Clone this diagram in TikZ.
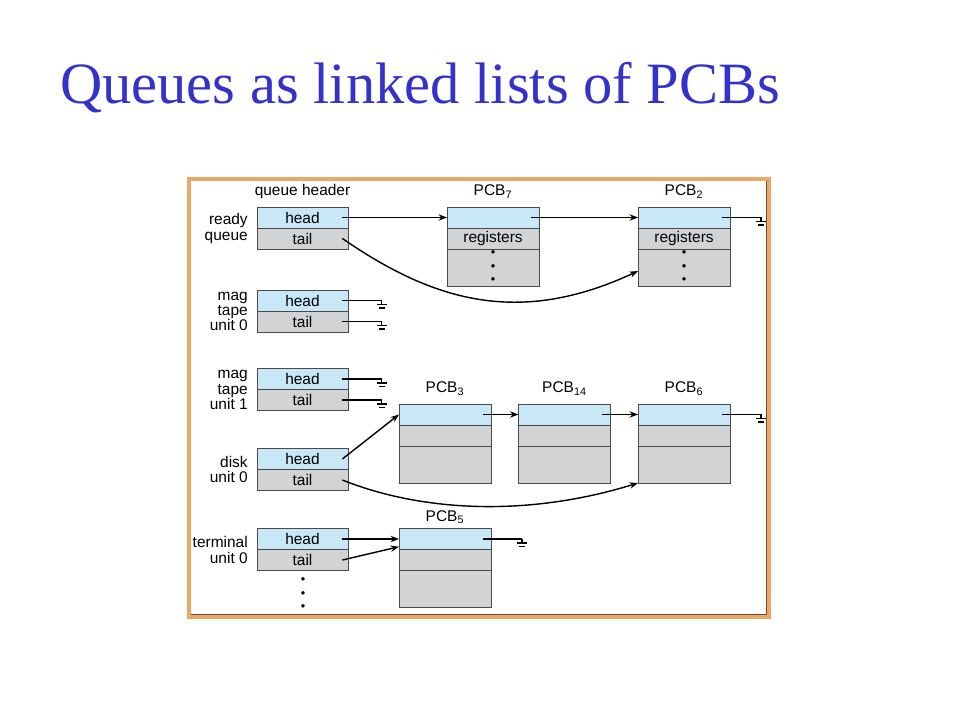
\documentclass[tikz,border=0pt]{standalone}
\usepackage{fontspec}
\setmainfont{Liberation Serif}
\newfontfamily\arialfont{Liberation Sans}
\usepackage{tikz}
\usetikzlibrary{positioning, arrows.meta}
\definecolor{titleblue}{HTML}{3333CC}
\definecolor{rowblue}{HTML}{C8E8F8}
\definecolor{rowgray}{HTML}{D2D3D5}
\definecolor{edgegray}{HTML}{4A4A4A}
\definecolor{frameorange}{HTML}{EBA868}
\definecolor{framebrown}{HTML}{7A4A20}
\newcommand{\boxfont}{\arialfont\fontsize{11}{10.8}\selectfont}
\newcommand{\dotsfont}{\arialfont\fontsize{9}{9.6}\selectfont}
\newcommand{\threedots}{\textbullet\\\textbullet\\\textbullet}
\newcommand{\groundat}[1]{\draw [line width=0.8pt] (#1) -- ++(0,4) ++(-5,0) -- ++(10,0) ++(-8,3.5) -- ++(6,0);}
\tikzstyle{headrow} = [rectangle, minimum width=2.275cm, minimum height=0.525cm, inner sep=0pt, outer sep=0pt, draw=edgegray, line width=0.6pt, fill=rowblue, font=\boxfont]
\tikzstyle{tailrow} = [headrow, fill=rowgray]
\tikzstyle{pcbhead} = [headrow, minimum width=2.3cm]
\tikzstyle{pcbrow} = [pcbhead, fill=rowgray]
\tikzstyle{pcbbody} = [pcbrow, minimum height=0.925cm, align=center, font=\dotsfont]
\tikzstyle{queuename} = [anchor=east, align=right, inner sep=0pt, font=\boxfont]
\tikzstyle{pcbname} = [inner sep=0pt, font=\boxfont]
\tikzstyle{pointer} = [-{Stealth[length=6pt, width=4.5pt]}, line width=1pt]
\tikzstyle{wire} = [line width=1pt]

\begin{document}
\begin{tikzpicture}[x=0.025cm, y=-0.025cm]
	\useasboundingbox (0,0) rectangle (960,720);
	\node (title)[anchor=base west, inner sep=0pt, text=titleblue, font=\fontsize{41.6}{41.6}\selectfont] at (60,104) {Queues as linked lists of PCBs};
	\draw [frameorange, line width=3pt] (189,179) rectangle (769,617);
	\draw [framebrown, line width=0.6pt] (191,614.5) -- (766.5,614.5) -- (766.5,181);

	% queue headers
	\node (ready head)[headrow] at (302.5,217.5) {head};
	\node (ready tail)[tailrow, below=0pt of ready head] {tail};
	\node (ready name)[queuename] at (248,228.5) {ready\\queue};
	\node (queue header)[pcbname, above=6pt of ready head] {queue header};
	\node (mag0 head)[headrow] at (302.5,300.5) {head};
	\node (mag0 tail)[tailrow, below=0pt of mag0 head] {tail};
	\node (mag0 name)[queuename] at (248,311.5) {mag\\tape\\unit 0};
	\node (mag1 head)[headrow] at (302.5,379) {head};
	\node (mag1 tail)[tailrow, below=0pt of mag1 head] {tail};
	\node (mag1 name)[queuename] at (248,390) {mag\\tape\\unit 1};
	\node (disk head)[headrow] at (302.5,459) {head};
	\node (disk tail)[tailrow, below=0pt of disk head] {tail};
	\node (disk name)[queuename] at (248,469.5) {disk\\unit 0};
	\node (term head)[headrow] at (302.5,539) {head};
	\node (term tail)[tailrow, below=0pt of term head] {tail};
	\node (term name)[queuename] at (248,550) {terminal\\unit 0};
	\node (term dots)[inner sep=0pt, align=center, font=\dotsfont] at (303,594.5) {\threedots};

	% PCBs
	\node (PCB7 head)[pcbhead] at (493,217.5) {};
	\node (PCB7 regs)[pcbrow, below=0pt of PCB7 head] {registers};
	\node (PCB7 body)[pcbbody, below=0pt of PCB7 regs] {\threedots};
	\node (PCB7 name)[pcbname, above=6pt of PCB7 head] {PCB\textsubscript{7}};
	\node (PCB2 head)[pcbhead] at (684,217.5) {};
	\node (PCB2 regs)[pcbrow, below=0pt of PCB2 head] {registers};
	\node (PCB2 body)[pcbbody, below=0pt of PCB2 regs] {\threedots};
	\node (PCB2 name)[pcbname, above=6pt of PCB2 head] {PCB\textsubscript{2}};
	\node (PCB3 head)[pcbhead] at (445,414.5) {};
	\node (PCB3 regs)[pcbrow, below=0pt of PCB3 head] {};
	\node (PCB3 body)[pcbbody, below=0pt of PCB3 regs] {};
	\node (PCB3 name)[pcbname, above=6pt of PCB3 head] {PCB\textsubscript{3}};
	\node (PCB14 head)[pcbhead] at (564.5,414.5) {};
	\node (PCB14 regs)[pcbrow, below=0pt of PCB14 head] {};
	\node (PCB14 body)[pcbbody, below=0pt of PCB14 regs] {};
	\node (PCB14 name)[pcbname, above=6pt of PCB14 head] {PCB\textsubscript{14}};
	\node (PCB6 head)[pcbhead] at (684,414.5) {};
	\node (PCB6 regs)[pcbrow, below=0pt of PCB6 head] {};
	\node (PCB6 body)[pcbbody, below=0pt of PCB6 regs] {};
	\node (PCB6 name)[pcbname, above=6pt of PCB6 head] {PCB\textsubscript{6}};
	\node (PCB5 head)[pcbhead] at (445,539) {};
	\node (PCB5 regs)[pcbrow, below=0pt of PCB5 head] {};
	\node (PCB5 body)[pcbbody, below=0pt of PCB5 regs] {};
	\node (PCB5 name)[pcbname, above=3pt of PCB5 head] {PCB\textsubscript{5}};

	% ground points
	\coordinate [right=24pt of mag0 head] (mag0 head gnd);
	\coordinate [right=24pt of mag0 tail] (mag0 tail gnd);
	\coordinate [right=24pt of mag1 head] (mag1 head gnd);
	\coordinate [right=24pt of mag1 tail] (mag1 tail gnd);
	\coordinate [right=22pt of PCB2 head] (PCB2 gnd);
	\coordinate [right=22pt of PCB6 head] (PCB6 gnd);
	\coordinate [right=22pt of PCB5 head] (PCB5 gnd);

	% links
	\draw [pointer] ([xshift=-4pt]ready head.east) -- (PCB7 head.west);
	\draw [pointer] ([xshift=-6pt]PCB7 head.east) -- (PCB2 head.west);
	\draw [pointer] ([xshift=-4pt]ready tail.east) .. controls +(90,62) and +(-120,56) .. ([yshift=-2.5pt]PCB2 body.west);
	\draw [wire] ([xshift=-6pt]PCB2 head.east) -- (PCB2 gnd); \groundat{PCB2 gnd}
	\draw [wire] ([xshift=-4pt]mag0 head.east) -- (mag0 head gnd); \groundat{mag0 head gnd}
	\draw [wire] ([xshift=-4pt]mag0 tail.east) -- (mag0 tail gnd); \groundat{mag0 tail gnd}
	\draw [wire] ([xshift=-4pt]mag1 head.east) -- (mag1 head gnd); \groundat{mag1 head gnd}
	\draw [wire] ([xshift=-4pt]mag1 tail.east) -- (mag1 tail gnd); \groundat{mag1 tail gnd}
	\draw [pointer] ([xshift=-4pt]disk head.east) -- (PCB3 head.west);
	\draw [pointer] ([xshift=-6pt]PCB3 head.east) -- (PCB14 head.west);
	\draw [pointer] ([xshift=-6pt]PCB14 head.east) -- (PCB6 head.west);
	\draw [wire] ([xshift=-6pt]PCB6 head.east) -- (PCB6 gnd); \groundat{PCB6 gnd}
	\draw [pointer] ([xshift=-4pt]disk tail.east) .. controls +(80,32) and +(-110,34) .. (PCB6 body.south west);
	\draw [pointer] ([xshift=-4pt]term head.east) -- (PCB5 head.west);
	\draw [pointer] ([xshift=-4pt]term tail.east) -- ([yshift=-5.5pt]PCB5 head.west);
	\draw [wire] ([xshift=-6pt]PCB5 head.east) -- (PCB5 gnd); \groundat{PCB5 gnd}
\end{tikzpicture}
\end{document}
